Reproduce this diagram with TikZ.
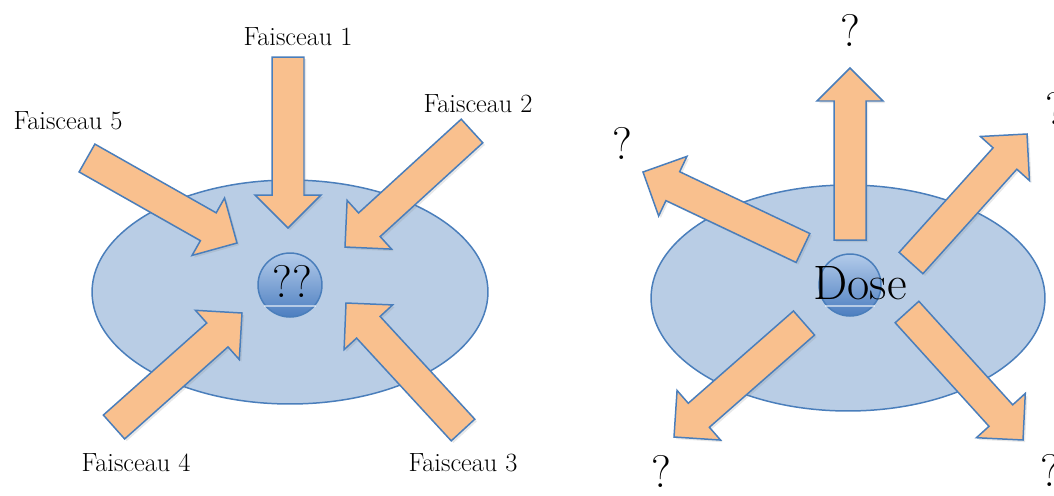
\documentclass[tikz,border=0pt]{standalone}
\usetikzlibrary{calc,shadows}
\definecolor{ellfill}{HTML}{B9CDE5}
\definecolor{edge}{HTML}{4A7EBB}
\definecolor{peach}{HTML}{F9C08E}
\definecolor{sphtop}{HTML}{B3CBEA}
\definecolor{sphbot}{HTML}{4C7EC0}
\tikzset{
  ell/.style={fill=ellfill, draw=edge, line width=0.85pt},
  sph/.style={top color=sphtop, bottom color=sphbot, draw=edge, line width=0.85pt},
  arr/.style={fill=peach, draw=edge, line width=0.85pt, line join=miter,
    drop shadow={opacity=0.18, shadow xshift=1.2pt, shadow yshift=-1.2pt}},
  lbl/.style={font=\fontsize{15}{17}\selectfont, inner sep=0pt},
  big/.style={font=\fontsize{26}{30}\selectfont, inner sep=0pt},
  bigger/.style={font=\fontsize{27.5}{32}\selectfont, inner sep=0pt},
}
\newcommand{\barrow}[3]{%
  \coordinate (#1b) at ($(#3)!0.66cm!(#2)$);
  \draw[arr] ($(#2)!0.32cm!90:(#3)$) -- ($(#1b)!0.32cm!90:(#3)$) -- ($(#1b)!0.66cm!90:(#3)$) -- (#3)
    -- ($(#1b)!0.66cm!-90:(#3)$) -- ($(#1b)!0.32cm!-90:(#3)$) -- ($(#2)!0.32cm!-90:(#3)$) -- cycle;}
\begin{document}
\begin{tikzpicture}[x=0.02cm, y=-0.02cm]
\useasboundingbox (0,0) rectangle (1054,495);
\clip (0,0) rectangle (1054,495);
% ---------- left ----------
\coordinate (lc) at (290,292);
\coordinate (ls) at (290,285);
\draw[ell] (lc) ellipse [x radius=3.96cm, y radius=2.24cm];
\draw[sph] (ls) circle [radius=0.64cm];
\draw[white, opacity=0.55, line width=0.6pt] ($(ls)+(-26,21)$) -- ($(ls)+(26,21)$);
\node[big] (qq) at (292,281) {??};
\coordinate (t1) at (288,57);  \coordinate (p1) at (288,228);
\coordinate (t2) at (472,131); \coordinate (p2) at (345,247);
\coordinate (t3) at (463,430); \coordinate (p3) at (346,303);
\coordinate (t4) at (114,427); \coordinate (p4) at (242,313);
\coordinate (t5) at (87,158);  \coordinate (p5) at (237,243);
\barrow{a1}{t1}{p1}
\barrow{a2}{t2}{p2}
\barrow{a3}{t3}{p3}
\barrow{a4}{t4}{p4}
\barrow{a5}{t5}{p5}
\node[lbl] (f1) at (298,37) {Faisceau 1};
\node[lbl] (f2) at (478,104) {Faisceau 2};
\node[lbl] (f3) at (463,463) {Faisceau 3};
\node[lbl] (f4) at (136,463) {Faisceau 4};
\node[lbl] (f5) at (68,121) {Faisceau 5};
% ---------- right ----------
\coordinate (rc) at (848,298);
\coordinate (rs) at (850,285);
\draw[ell] (rc) ellipse [x radius=3.94cm, y radius=2.26cm];
\draw[sph] (rs) circle [radius=0.62cm];
\draw[white, opacity=0.55, line width=0.6pt] ($(rs)+(-25,21)$) -- ($(rs)+(25,21)$);
\coordinate (u1) at (850,240);  \coordinate (q1) at (850,68);
\coordinate (u2) at (803,248);  \coordinate (q2) at (643,172);
\coordinate (u3) at (911,263);  \coordinate (q3) at (1027,134);
\coordinate (u4) at (804,323);  \coordinate (q4) at (674,437);
\coordinate (u5) at (907,312);  \coordinate (q5) at (1023,440);
\barrow{b1}{u1}{q1}
\barrow{b2}{u2}{q2}
\barrow{b3}{u3}{q3}
\barrow{b4}{u4}{q4}
\barrow{b5}{u5}{q5}
\node[bigger] (dose) at (860,283) {Dose};
\node[big] (m1) at (850,30) {?};
\node[big] (m2) at (622,143) {?};
\node[big] (m3) at (1055,108) {?};
\node[big] (m4) at (661,471) {?};
\node[big] (m5) at (1050,470) {?};
\end{tikzpicture}
\end{document}
